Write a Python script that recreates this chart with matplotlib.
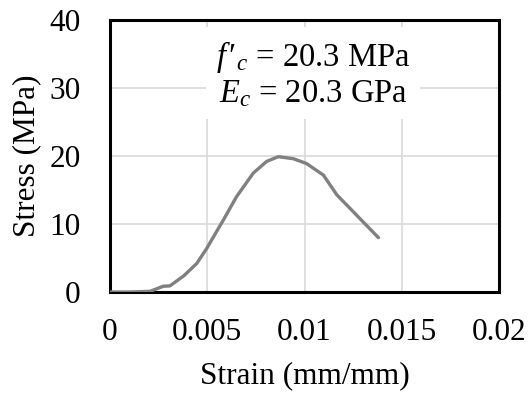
import matplotlib
matplotlib.use("Agg")
import matplotlib.pyplot as plt
from matplotlib.ticker import FuncFormatter

# Compressive stress-strain curve of the concrete cylinder
strain = [0.0, 0.0010, 0.00206, 0.00274, 0.00308, 0.0038, 0.00446, 0.00497,
          0.00583, 0.0065, 0.00737, 0.00805, 0.00865, 0.00943, 0.0101,
          0.01097, 0.01166, 0.01217, 0.0138]
stress = [0.0, 0.0, 0.1, 0.85, 0.9, 2.4, 4.2, 6.4,
          10.6, 14.0, 17.5, 19.2, 19.9, 19.6, 18.9,
          17.2, 14.3, 12.8, 8.0]

x_ticks = [0, 0.005, 0.01, 0.015, 0.02]
y_ticks = [0, 10, 20, 30, 40]
label_fc = "20.3 MPa"
label_ec = "20.3 GPa"

plt.rcParams["font.family"] = ["Liberation Serif", "DejaVu Serif"]
plt.rcParams["mathtext.fontset"] = "custom"
plt.rcParams["mathtext.rm"] = "Liberation Serif"
plt.rcParams["mathtext.it"] = "Liberation Serif:italic"

fig = plt.figure(figsize=(5.31, 3.98), dpi=100)
ax = fig.add_axes([0.2072, 0.2663, 0.7325, 0.6834])

ax.plot(strain, stress, color="#808080", lw=2.4, solid_capstyle="round",
        solid_joinstyle="round", zorder=3)

ax.set_xlim(x_ticks[0], x_ticks[-1])
ax.set_ylim(y_ticks[0], y_ticks[-1])
ax.set_xticks(x_ticks)
ax.set_yticks(y_ticks)
ax.xaxis.set_major_formatter(FuncFormatter(lambda v, p: "%g" % v))
ax.yaxis.set_major_formatter(FuncFormatter(lambda v, p: "%g" % v))
ax.tick_params(axis="both", length=0, labelsize=22.5)
ax.tick_params(axis="x", pad=19)
ax.tick_params(axis="y", pad=21)
ax.grid(True, color="#d9d9d9", lw=1.2, zorder=0)
ax.set_axisbelow(True)
for s in ax.spines.values():
    s.set_linewidth(2.2)
    s.set_color("black")

ax.set_xlabel("Strain (mm/mm)", fontsize=22.5, labelpad=10)
ax.set_ylabel("Stress (MPa)", fontsize=22.5, labelpad=6)

ax.text(0.01044, 32.0,
        "$f\\,\u2032_c$ = " + label_fc + "\n$E_c$ = " + label_ec,
        ha="center", va="center", fontsize=23.5, linespacing=1.15,
        bbox=dict(boxstyle="square,pad=0.3", fc="white", ec="none"),
        zorder=4)

fig.savefig("out.png", dpi=100, facecolor="white")
